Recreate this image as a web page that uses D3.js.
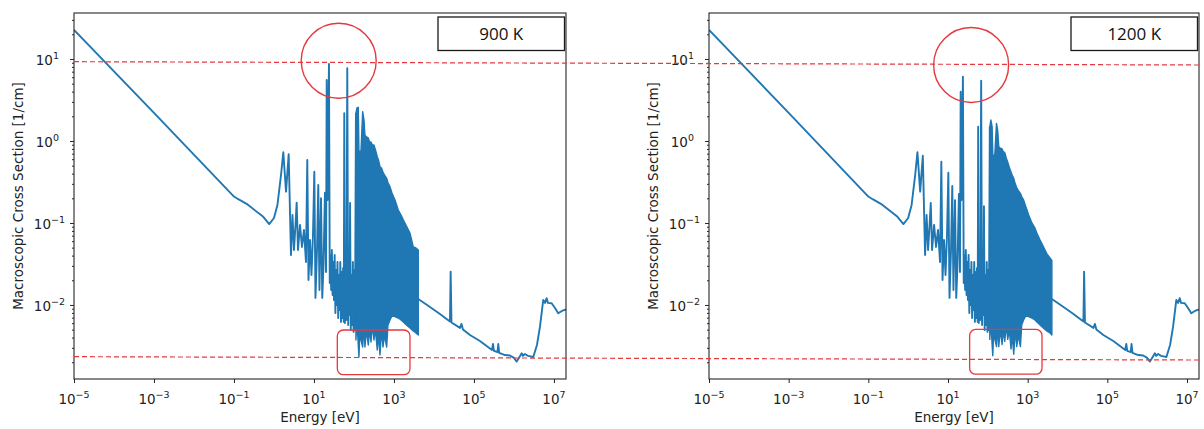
<!DOCTYPE html>
<html><head><meta charset="utf-8">
<script src="https://cdn.jsdelivr.net/npm/d3@7"></script>
<style>body{margin:0;background:#fff}svg{display:block}</style>
</head><body>
<svg id="chart" width="1204" height="429"></svg>
<script>
// ---------------- data ----------------
const panelLabels = ["900 K", "1200 K"];
const xTickValues = [1e-5, 1e-3, 1e-1, 1e1, 1e3, 1e5, 1e7];
const yTickValues = [1e-2, 1e-1, 1, 10];
const xLabel = "Energy [eV]";
const yLabel = "Macroscopic Cross Section [1/cm]";

// energy grid of the drawn line [eV]
const energy = [1e-5, 1e-3, 0.1, 0.128, 0.207, 0.54, 0.76, 1.0, 1.22, 1.5, 1.71, 2.0, 2.33, 2.66, 2.90, 3.16, 3.45, 3.69, 3.98, 4.47,
  5.01, 5.62, 6.31, 6.80, 7.29, 7.94, 8.66, 9.44, 10.2, 10.9, 11.9, 12.8, 13.7, 15.0, 16.1, 17.3, 18.8, 20.0, 20.8, 21.8,
  23.7, 24.8, 25.9, 26.9, 28.0, 29.2, 30.4, 31.6, 32.9, 34.3, 35.7, 37.2, 38.7, 40.3, 41.9, 43.7, 45.5, 47.3, 49.3, 51.3,
  53.4, 55.6, 57.2, 59.2, 61.7, 64.2, 68.0, 71.6, 74.6, 77.2, 79.9, 83.2, 86.6, 90.2, 93.9, 97.7, 102, 106, 112,
  4050, 7940, 14100, 25100, 26100, 27400, 44700, 48700, 53100, 79400, 141000, 282000, 299000, 316000, 387000, 405000, 427000, 596000, 794000, 1.0e6,
  1.17e6, 1.33e6, 1.56e6, 1.68e6, 1.88e6, 2.24e6, 3.04e6, 3.76e6, 4.47e6, 5.40e6, 5.96e6, 6.57e6, 7.08e6, 8.76e6, 1.06e7, 1.28e7, 1.58e7, 2.0e7];

// macroscopic cross section at 900 K [1/cm]
const sigma900 = [22.6, 2.2, 0.21, 0.195, 0.171, 0.119, 0.097, 0.115, 0.166, 0.385, 0.728, 0.241, 0.689, 0.0407, 0.125, 0.0469, 0.0946, 0.177, 0.0469, 0.0946,
  0.051, 0.0822, 0.0334, 0.586, 0.0202, 0.0621, 0.0232, 0.0714, 0.422, 0.0122, 0.0469, 0.290, 0.0152, 0.200, 0.0122, 0.0308, 0.234, 0.0252, 5.55, 0.191,
  8.69, 0.0185, 0.0407, 0.0152, 0.0469, 0.0132, 0.0334, 0.0115, 0.0407, 0.00798, 0.0267, 0.0100, 0.0334, 0.00693, 0.0232, 0.00869, 0.0334, 0.00621, 0.0252, 0.00693,
  0.0283, 0.00621, 2.18, 0.00602, 0.0308, 0.00656, 7.71, 0.0057, 0.0267, 0.00755, 0.175, 0.00495, 0.0232, 0.0057, 0.0334, 0.00469, 0.0267, 0.00495, 2.19,
  0.0118, 0.00946, 0.00777, 0.00629, 0.0255, 0.00611, 0.00525, 0.00587, 0.00503, 0.0043, 0.00364, 0.00282, 0.00334, 0.00275, 0.00267, 0.00334, 0.0026, 0.00245, 0.00242, 0.00226,
  0.00204, 0.00226, 0.00258, 0.00239, 0.00252, 0.00239, 0.00232, 0.00325, 0.00543, 0.0115, 0.0106, 0.0121, 0.0106, 0.0105, 0.00918, 0.00792, 0.00845, 0.00881];

// macroscopic cross section at 1200 K [1/cm]
const sigma1200 = [22.6, 2.2, 0.21, 0.195, 0.171, 0.119, 0.097, 0.115, 0.166, 0.385, 0.73, 0.241, 0.66, 0.0407, 0.125, 0.0469, 0.0946, 0.175, 0.0469, 0.0946,
  0.051, 0.0822, 0.0334, 0.56, 0.0202, 0.0621, 0.0232, 0.0714, 0.41, 0.0122, 0.0469, 0.283, 0.0152, 0.19, 0.0122, 0.0308, 0.226, 0.0252, 3.99, 0.191,
  6.08, 0.0185, 0.0407, 0.0152, 0.0469, 0.0132, 0.0334, 0.0115, 0.0407, 0.00798, 0.0267, 0.0100, 0.0334, 0.00693, 0.0232, 0.00869, 0.0334, 0.00621, 0.0252, 0.00693,
  0.0283, 0.00621, 1.49, 0.00602, 0.0308, 0.00656, 5.44, 0.0057, 0.0267, 0.00755, 0.16, 0.00495, 0.0232, 0.0057, 0.0334, 0.00469, 0.0267, 0.00495, 1.49,
  0.0118, 0.00946, 0.00777, 0.00629, 0.0255, 0.00611, 0.00525, 0.00587, 0.00503, 0.0043, 0.00364, 0.00282, 0.00334, 0.00275, 0.00267, 0.00334, 0.0026, 0.00245, 0.00242, 0.00226,
  0.00204, 0.00226, 0.00258, 0.00239, 0.00252, 0.00239, 0.00232, 0.00325, 0.00543, 0.0115, 0.0106, 0.0121, 0.0106, 0.0105, 0.00918, 0.00792, 0.00845, 0.00881];

// densely packed resonance region: upper / lower envelope
const bandEnergy = [112, 119, 128, 133, 141, 150, 165, 178, 188, 205, 228, 244, 266, 290, 316, 345, 382, 410, 447, 487,
  531, 579, 657, 708, 794, 891, 1060, 1280, 1500, 1710, 2050, 2510, 3040, 3550, 4050];
const bandTop900 = [2.19, 2.53, 2.58, 0.777, 0.675, 0.777, 2.28, 1.80, 1.18, 1.12, 1.09, 0.972, 0.972, 0.894, 0.894, 0.777, 0.644, 0.586, 0.486, 0.469,
  0.419, 0.385, 0.351, 0.308, 0.277, 0.232, 0.191, 0.144, 0.125, 0.109, 0.0919, 0.0755, 0.051, 0.0496, 0.0469];
const bandBottom900 = [0.00374, 0.00656, 0.00325, 0.00232, 0.00495, 0.00374, 0.00307, 0.0057, 0.00307, 0.00495, 0.00325, 0.00495, 0.00354, 0.0057, 0.00374, 0.00495, 0.00282, 0.0043, 0.00245, 0.00495,
  0.00307, 0.0043, 0.00307, 0.0057, 0.00656, 0.00734, 0.0072, 0.00693, 0.00656, 0.00621, 0.0057, 0.00525, 0.00482, 0.00456, 0.0043];
const bandTop1200 = [1.49, 1.80, 1.5, 0.7, 0.6, 0.7, 1.64, 1.3, 0.85, 0.82, 0.80, 0.74, 0.72, 0.62, 0.55, 0.48, 0.42, 0.38, 0.35, 0.30,
  0.27, 0.25, 0.23, 0.21, 0.19, 0.16, 0.125, 0.10, 0.088, 0.075, 0.062, 0.051, 0.042, 0.038, 0.035];
const bandBottom1200 = [0.0038, 0.0066, 0.0033, 0.0024, 0.005, 0.0038, 0.0031, 0.0057, 0.0031, 0.005, 0.0033, 0.005, 0.0036, 0.0057, 0.0038, 0.005, 0.0029, 0.0043, 0.0025, 0.005,
  0.0031, 0.0043, 0.0031, 0.0057, 0.0066, 0.0073, 0.0072, 0.0069, 0.0066, 0.0062, 0.0057, 0.0052, 0.0048, 0.0046, 0.0043];

// annotations (data coordinates)
const refLineHigh = [9.27, 8.45];     // sigma at start (left panel) and end (right panel)
const refLineLow = [2.34e-3, 2.13e-3];
const circleCenters = [[41.5, 9.51], [38.1, 8.45]];           // [E, sigma]
const highlightBoxes = [[38.3, 2512, 4.95e-3, 1.41e-3], [34.9, 2291, 5.03e-3, 1.43e-3]]; // [E0, E1, sigmaTop, sigmaBottom]

// ---------------- drawing ----------------
const svg = d3.select("#chart");
svg.append("rect").attr("width", 1204).attr("height", 429).attr("fill", "#fff");

const plotTop = 13, plotBottom = 379;
const xDomain = [1e-5, 2e7];
const yDomain = [1.25e-3, 36.4];
const y = d3.scaleLog().domain(yDomain).range([plotBottom, plotTop]);

const panelDefs = [
  {left: 74, right: 566, sigma: sigma900, top: bandTop900, bottom: bandBottom900, yLabelX: 23},
  {left: 709, right: 1199, sigma: sigma1200, top: bandTop1200, bottom: bandBottom1200, yLabelX: 658}
];

const blue = "#1f77b4";
const red = "#e5393f";
const axisColor = "#262626";
const font = "'DejaVu Sans', sans-serif";

function expLabel(sel, v) {
  const e = Math.round(Math.log10(v));
  sel.append("tspan").text("10");
  sel.append("tspan").attr("dy", -6).attr("font-size", 9.5).text(e < 0 ? "\u2212" + (-e) : String(e));
}

const minorY = [];
[1e-3, 1e-2, 1e-1, 1, 10].forEach(d => { for (let k = 2; k <= 9; k++) { const v = k * d; if (v > yDomain[0] && v < yDomain[1]) minorY.push(v); } });

panelDefs.forEach((p, i) => {
  const x = d3.scaleLog().domain(xDomain).range([p.left, p.right]);
  p.x = x;
  const g = svg.append("g");
  const clipId = "clip" + i;
  svg.append("clipPath").attr("id", clipId).append("rect")
    .attr("x", p.left).attr("y", plotTop).attr("width", p.right - p.left).attr("height", plotBottom - plotTop);

  const pts = energy.map((e, j) => ({e: e, s: p.sigma[j]}));
  const bandStart = bandEnergy[0], bandEnd = bandEnergy[bandEnergy.length - 1];
  const segments = [pts.filter(d => d.e <= bandStart), pts.filter(d => d.e >= bandEnd)];
  const line = d3.line().x(d => x(d.e)).y(d => y(d.s));
  const plot = g.append("g").attr("clip-path", `url(#${clipId})`);
  segments.forEach(seg => {
    plot.append("path").attr("d", line(seg)).attr("fill", "none").attr("stroke", blue)
      .attr("stroke-width", 1.9).attr("stroke-linejoin", "round");
  });
  const band = bandEnergy.map((e, j) => ({e: e, t: p.top[j], b: p.bottom[j]}));
  const area = d3.area().x(d => x(d.e)).y0(d => y(d.b)).y1(d => y(d.t));
  plot.append("path").attr("d", area(band)).attr("fill", blue).attr("stroke", blue).attr("stroke-width", 1.4).attr("stroke-linejoin", "round");

  // axes
  const xAxis = g.append("g").attr("transform", `translate(0,${plotBottom})`)
    .call(d3.axisBottom(x).tickValues(xTickValues).tickSize(4).tickFormat(""));
  const yAxis = g.append("g").attr("transform", `translate(${p.left},0)`)
    .call(d3.axisLeft(y).tickValues(yTickValues).tickSize(4).tickFormat(""));
  const yMinor = g.append("g").attr("transform", `translate(${p.left},0)`)
    .call(d3.axisLeft(y).tickValues(minorY).tickSize(2).tickFormat(""));
  [xAxis, yAxis, yMinor].forEach(a => {
    a.select(".domain").remove();
    a.selectAll("line").attr("stroke", axisColor).attr("stroke-width", 1);
  });

  g.append("rect").attr("x", p.left).attr("y", plotTop).attr("width", p.right - p.left).attr("height", plotBottom - plotTop)
    .attr("fill", "none").attr("stroke", axisColor).attr("stroke-width", 1.1);

  // tick labels
  xTickValues.forEach(v => {
    g.append("text").attr("x", x(v)).attr("y", 403.5).attr("text-anchor", "middle")
      .attr("font-family", font).attr("font-size", 13.5).attr("fill", "#222").call(expLabel, v);
  });
  yTickValues.forEach(v => {
    const neg = v < 1;
    g.append("text").attr("x", p.left - (neg ? 9 : 15)).attr("y", y(v) + 6).attr("text-anchor", "end")
      .attr("font-family", font).attr("font-size", 13.5).attr("fill", "#222").call(expLabel, v);
  });

  // axis titles
  g.append("text").attr("x", (p.left + p.right) / 2).attr("y", 422).attr("text-anchor", "middle")
    .attr("font-family", font).attr("font-size", 13.5).attr("fill", "#222").text(xLabel);
  g.append("text").attr("transform", `translate(${p.yLabelX},${(plotTop + plotBottom) / 2}) rotate(-90)`)
    .attr("text-anchor", "middle").attr("font-family", font).attr("font-size", 13.5).attr("fill", "#222").text(yLabel);

  // circle and rounded box annotations
  const c = circleCenters[i];
  g.append("circle").attr("cx", x(c[0])).attr("cy", y(c[1])).attr("r", 37.5)
    .attr("fill", "none").attr("stroke", red).attr("stroke-width", 1.4);
  const b = highlightBoxes[i];
  g.append("rect").attr("x", x(b[0])).attr("y", y(b[2])).attr("width", x(b[1]) - x(b[0])).attr("height", y(b[3]) - y(b[2]))
    .attr("rx", 6).attr("fill", "none").attr("stroke", red).attr("stroke-width", 1.3);

  // temperature label box
  const bw = 126.5, bh = 33.5;
  g.append("rect").attr("x", p.right - 1.5 - bw).attr("y", plotTop + 4).attr("width", bw).attr("height", bh)
    .attr("fill", "#fff").attr("stroke", "#1a1a1a").attr("stroke-width", 1.3);
  g.append("text").attr("x", p.right - 1.5 - bw / 2).attr("y", plotTop + 4 + bh / 2 + 6)
    .attr("text-anchor", "middle").attr("font-family", "'Open Sans', sans-serif").attr("font-size", 17)
    .attr("fill", "#111").text(panelLabels[i]);
});

// dashed reference lines spanning both panels
const L = panelDefs[0], R = panelDefs[1];
[refLineHigh, refLineLow].forEach(r => {
  svg.append("line").attr("x1", L.x(1e-5)).attr("y1", y(r[0])).attr("x2", R.x(2.05e7)).attr("y2", y(r[1]))
    .attr("stroke", red).attr("stroke-width", 1.2).attr("stroke-dasharray", "5,3");
});
</script>
</body></html>
